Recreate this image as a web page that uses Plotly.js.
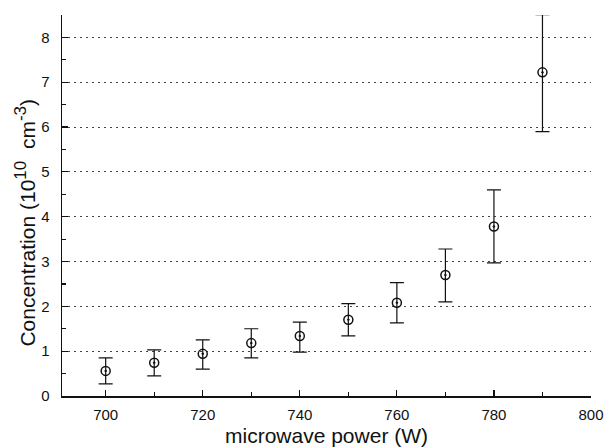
<!DOCTYPE html>
<html>
<head>
<meta charset="utf-8">
<script src="https://cdn.plot.ly/plotly-3.0.1.min.js"></script>
<style>
  html, body { margin: 0; padding: 0; background: #fff; }
  #chart { width: 606px; height: 448px; }
</style>
</head>
<body>
<div id="chart"></div>
<script>
// Microwave power (W)
const power = [700, 710, 720, 730, 740, 750, 760, 770, 780, 790];
// Concentration in units of 1e10 cm^-3
const concentration = [0.56, 0.74, 0.94, 1.18, 1.34, 1.70, 2.08, 2.70, 3.78, 7.22];
// Upper and lower error bar ends
const errUpper = [0.85, 1.03, 1.25, 1.50, 1.65, 2.06, 2.53, 3.28, 4.60, 8.51];
const errLower = [0.27, 0.45, 0.60, 0.85, 0.98, 1.34, 1.63, 2.10, 2.97, 5.90];

const plus = errUpper.map((u, i) => +(u - concentration[i]).toFixed(3));
const minus = errLower.map((l, i) => +(concentration[i] - l).toFixed(3));

const yTitle = 'Concentration (10<sup><span style="font-size:17px">10</span></sup>&nbsp; cm<sup><span style="font-size:17px">-3</span></sup>)';

const trace = {
  x: power,
  y: concentration,
  type: 'scatter',
  mode: 'markers',
  marker: {
    symbol: 'circle-open-dot',
    size: 9,
    color: '#111',
    line: { width: 1.5, color: '#111' }
  },
  error_y: {
    type: 'data',
    symmetric: false,
    array: plus,
    arrayminus: minus,
    color: '#111',
    thickness: 1.2,
    width: 7
  },
  hoverinfo: 'x+y'
};

const layout = {
  width: 606,
  height: 448,
  margin: { l: 62, r: 15, t: 15, b: 52 },
  paper_bgcolor: '#fff',
  plot_bgcolor: '#fff',
  showlegend: false,
  font: { family: 'Liberation Sans, Arial, sans-serif', color: '#111', size: 15 },
  xaxis: {
    range: [691, 800],
    tickmode: 'linear',
    tick0: 700,
    dtick: 20,
    ticks: 'inside',
    ticklen: 6,
    tickwidth: 1.2,
    tickcolor: '#111',
    minor: { dtick: 10, ticks: 'inside', ticklen: 4, tickcolor: '#111', showgrid: false },
    showline: true,
    linecolor: '#111',
    linewidth: 1.5,
    showgrid: false,
    zeroline: false,
    tickfont: { size: 15 },
    ticklabelstandoff: 4,
    title: { text: 'microwave power (W)', font: { size: 21 }, standoff: 7 }
  },
  yaxis: {
    range: [0, 8.5],
    tickmode: 'linear',
    tick0: 0,
    dtick: 1,
    ticks: 'inside',
    ticklen: 6,
    tickwidth: 1.2,
    tickcolor: '#111',
    minor: { dtick: 0.5, ticks: 'inside', ticklen: 4, tickcolor: '#111', showgrid: false },
    showline: true,
    linecolor: '#111',
    linewidth: 1.5,
    showgrid: true,
    gridcolor: '#444',
    griddash: '1.5px,4.5px',
    gridwidth: 1,
    zeroline: false,
    tickfont: { size: 15 },
    ticklabelstandoff: 8
  },
  // y-axis title placed as a rotated annotation, sitting a little below the axis middle
  annotations: [{
    text: yTitle,
    xref: 'paper',
    yref: 'paper',
    x: -0.07,
    y: 0.455,
    xanchor: 'center',
    yanchor: 'middle',
    textangle: -90,
    showarrow: false,
    font: { size: 21, color: '#111' }
  }]
};

Plotly.newPlot('chart', [trace], layout, { staticPlot: true, displayModeBar: false });
</script>
</body>
</html>
